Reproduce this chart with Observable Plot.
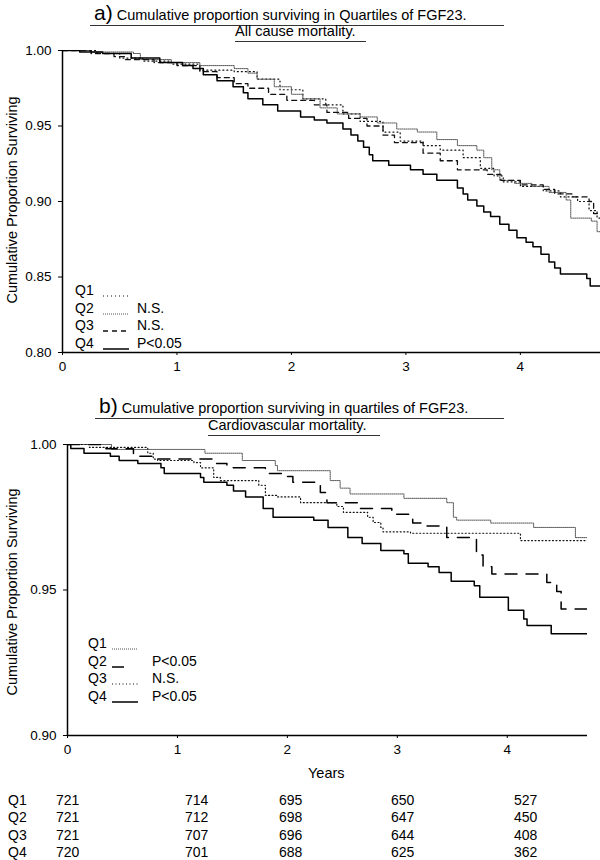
<!DOCTYPE html>
<html><head><meta charset="utf-8">
<script src="https://cdn.jsdelivr.net/npm/d3@7"></script>
<script src="https://cdn.jsdelivr.net/npm/@observablehq/plot@0.6"></script>
<style>
body{margin:0;background:#fff;font-family:"Liberation Sans",Arial,sans-serif;color:#000}
#root{position:relative;width:600px;height:860px;overflow:hidden;background:#fff}
.abs{position:absolute;white-space:nowrap;line-height:1}
.t{font-size:14.5px}
.u{border-bottom:1px solid #333;padding-bottom:2px;display:inline-block}
.big{font-size:21px}
.ylab{position:absolute;font-size:14.5px;white-space:nowrap;transform:translate(-50%,-50%) rotate(-90deg)}
.lg{position:absolute;font-size:14px;white-space:nowrap;line-height:1}
.cell{position:absolute;font-size:14px;line-height:1;white-space:nowrap}
svg.plot{position:absolute}
</style>
</head><body>
<div id="root"></div>
<script>
// ---------- data ----------
const years = [0, 1, 2, 3, 4];
const quartiles = ["Q1", "Q2", "Q3", "Q4"];
const aPvals = ["", "N.S.", "N.S.", "P<0.05"];
const bPvals = ["", "P<0.05", "N.S.", "P<0.05"];
const aYTicks = [0.80, 0.85, 0.90, 0.95, 1.00];
const bYTicks = [0.90, 0.95, 1.00];
const aXEnd = 4.70;
const bXEnd = 4.73;

// number at risk
const riskQ1 = [721, 714, 695, 650, 527];
const riskQ2 = [721, 712, 698, 647, 450];
const riskQ3 = [721, 707, 696, 644, 408];
const riskQ4 = [720, 701, 688, 625, 362];

// a) all cause mortality: [years, cumulative proportion surviving]
const aQ1 = [[0,1],[0.3,0.998],[0.5,0.995],[0.7,0.993],[0.95,0.991],[1.2,0.987],[1.5,0.986],[1.7,0.981],[1.9,0.974],[2.1,0.968],[2.3,0.964],[2.45,0.958],[2.6,0.953],[2.8,0.946],[2.95,0.940],[3.15,0.937],[3.3,0.934],[3.5,0.929],[3.65,0.922],[3.77,0.917],[3.85,0.913],[4.0,0.910],[4.2,0.907],[4.35,0.903],[4.5,0.900],[4.6,0.894],[4.67,0.889],[4.70,0.889]];
const aQ2 = [[0,1],[0.25,0.999],[0.62,0.998],[0.68,0.994],[0.95,0.992],[1.2,0.990],[1.5,0.988],[1.62,0.985],[1.7,0.981],[1.85,0.976],[2.0,0.971],[2.1,0.968],[2.25,0.962],[2.4,0.958],[2.6,0.956],[2.75,0.952],[2.92,0.948],[3.1,0.946],[3.27,0.941],[3.45,0.937],[3.62,0.934],[3.68,0.929],[3.75,0.921],[3.82,0.914],[3.95,0.912],[4.1,0.910],[4.25,0.906],[4.4,0.901],[4.44,0.889],[4.62,0.887],[4.67,0.880],[4.70,0.880]];
const aQ3 = [[0,1],[0.25,0.998],[0.45,0.996],[0.55,0.994],[0.8,0.992],[1.0,0.990],[1.2,0.986],[1.35,0.982],[1.5,0.978],[1.62,0.975],[1.8,0.971],[1.96,0.967],[2.2,0.964],[2.31,0.959],[2.5,0.955],[2.66,0.950],[2.8,0.944],[2.9,0.939],[3.15,0.932],[3.3,0.927],[3.45,0.921],[3.71,0.918],[3.83,0.914],[4.0,0.911],[4.2,0.908],[4.3,0.905],[4.45,0.903],[4.6,0.900],[4.64,0.892],[4.70,0.892]];
const aQ4 = [[0,1],[0.15,0.999],[0.35,0.998],[0.6,0.995],[0.85,0.992],[1.05,0.990],[1.14,0.988],[1.23,0.984],[1.35,0.980],[1.49,0.976],[1.58,0.972],[1.62,0.968],[1.75,0.964],[1.88,0.960],[2.08,0.956],[2.2,0.954],[2.31,0.952],[2.45,0.948],[2.52,0.944],[2.58,0.940],[2.63,0.936],[2.68,0.931],[2.71,0.927],[2.85,0.924],[3.04,0.921],[3.15,0.918],[3.27,0.914],[3.45,0.909],[3.5,0.905],[3.54,0.901],[3.62,0.897],[3.68,0.893],[3.74,0.890],[3.82,0.885],[3.9,0.881],[3.97,0.876],[4.05,0.873],[4.11,0.870],[4.18,0.865],[4.25,0.860],[4.3,0.856],[4.35,0.852],[4.58,0.849],[4.61,0.844],[4.70,0.844]];

// b) cardiovascular mortality
const bQ1 = [[0,1],[0.4,0.9983],[1.25,0.997],[1.59,0.9945],[1.89,0.9928],[1.91,0.991],[2.39,0.9876],[2.48,0.985],[2.57,0.983],[3.06,0.9815],[3.45,0.980],[3.51,0.975],[3.54,0.974],[3.85,0.973],[4.24,0.9715],[4.62,0.968],[4.73,0.968]];
const bQ2 = [[0,1],[0.35,0.9985],[0.6,0.996],[0.8,0.995],[1.35,0.9935],[1.45,0.992],[1.8,0.990],[1.95,0.989],[2.05,0.987],[2.3,0.9835],[2.36,0.980],[2.65,0.978],[2.95,0.976],[3.14,0.973],[3.25,0.972],[3.45,0.968],[3.72,0.962],[3.78,0.958],[3.86,0.9555],[4.36,0.9526],[4.45,0.9495],[4.49,0.9435],[4.73,0.9435]];
const bQ3 = [[0,1],[0.2,0.999],[0.73,0.997],[0.78,0.995],[0.82,0.9945],[1.15,0.9938],[1.21,0.992],[1.33,0.9887],[1.39,0.9876],[1.74,0.986],[1.8,0.9825],[1.91,0.982],[2.12,0.980],[2.45,0.9787],[2.51,0.9767],[2.73,0.975],[2.78,0.9732],[2.85,0.9715],[2.87,0.970],[3.12,0.9695],[4.12,0.967],[4.73,0.967]];
const bQ4 = [[0,1],[0.03,0.9986],[0.15,0.997],[0.39,0.996],[0.47,0.9945],[0.64,0.9935],[0.85,0.992],[0.88,0.990],[1.21,0.9887],[1.24,0.987],[1.45,0.986],[1.51,0.984],[1.62,0.982],[1.78,0.978],[1.87,0.975],[2.24,0.974],[2.37,0.9715],[2.55,0.968],[2.68,0.966],[2.85,0.9636],[3.06,0.9625],[3.1,0.9592],[3.28,0.958],[3.38,0.956],[3.49,0.953],[3.7,0.9515],[3.75,0.9475],[4.01,0.943],[4.15,0.940],[4.18,0.9378],[4.4,0.935],[4.73,0.935]];

// ---------- styles ----------
const aStyles = [
  {stroke:"#111", strokeWidth:1.2, dash:"1,3"},
  {stroke:"#555", strokeWidth:1, dash:"1,1"},
  {stroke:"#111", strokeWidth:1.3, dash:"5,4"},
  {stroke:"#000", strokeWidth:1.5, dash:null}
];
const bStyles = [
  {stroke:"#555", strokeWidth:1, dash:"1,1"},
  {stroke:"#000", strokeWidth:1.5, dash:"12,9"},
  {stroke:"#111", strokeWidth:1.2, dash:"1,2.5"},
  {stroke:"#000", strokeWidth:1.5, dash:null}
];

const root = document.getElementById("root");
function el(cls, html, css){const d=document.createElement("div");d.className=cls;d.innerHTML=html;Object.assign(d.style,css);root.appendChild(d);return d;}

function lineMark(series, st){
  const data = series.map(([t,s]) => ({t, s}));
  return Plot.line(data, {x:"t", y:"s", curve:"step-after", stroke:st.stroke, strokeWidth:st.strokeWidth, strokeDasharray:st.dash ?? undefined, clip:true});
}

function km(opts){
  const p = Plot.plot({
    width: 600, height: opts.height,
    marginTop: opts.mt, marginBottom: opts.mb, marginLeft: opts.ml, marginRight: opts.mr,
    style: {fontFamily:'"Liberation Sans", Arial, sans-serif', fontSize:"13.5px", color:"#000", background:"transparent", overflow:"visible"},
    x: {domain:[0, opts.xEnd], ticks: years, tickFormat: d3.format("d"), label:null, tickSize:3, tickPadding:6},
    y: {domain:[opts.yTicks[0], opts.yTicks[opts.yTicks.length-1]], ticks: opts.yTicks, tickFormat: d3.format(".2f"), label:null, tickSize:4, tickPadding:7},
    marks: [
      ...opts.series.map((s,i) => lineMark(s, opts.styles[i])),
      Plot.ruleX([0], {stroke:"#000", strokeWidth:1.5}),
      Plot.ruleY([opts.yTicks[0]], {stroke:"#000", strokeWidth:1.5})
    ]
  });
  p.classList.add("plot");
  p.style.left = "0px"; p.style.top = opts.top + "px";
  root.appendChild(p);
}

// ---------- titles ----------
el("abs t", '<span class="u" style="padding-right:38px;padding-left:4px"><span class="big">a)</span> Cumulative proportion surviving in Quartiles of FGF23.</span>', {left:"90px", top:"2px"});
el("abs t", '<span class="u" style="padding-right:10px">All cause mortality.</span>', {left:"235px", top:"24px"});

// ---------- chart a ----------
km({top:40, height:340, mt:10, mb:28, ml:62, mr:0, xEnd:aXEnd, yTicks:aYTicks, series:[aQ1,aQ2,aQ3,aQ4], styles:aStyles});
el("ylab", "Cumulative Proportion Surviving", {left:"12px", top:"200px"});

// legend
function legend(x0, y0, dy, pvals, styles, sampleX, pX, sampleW){
  quartiles.forEach((q,i) => {
    const y = y0 + i*dy;
    el("lg", q, {left:x0+"px", top:(y-7)+"px"});
    const st = styles[i];
    const w = sampleW[i];
    const svg = `<svg width="${w}" height="6"><line x1="0" x2="${w}" y1="3" y2="3" stroke="${st.stroke}" stroke-width="${st.strokeWidth}" ${st.dash?`stroke-dasharray="${st.dash}"`:""}/></svg>`;
    el("lg", svg, {left:sampleX+"px", top:(y-3)+"px"});
    if (pvals[i]) el("lg", pvals[i], {left:pX+"px", top:(y-7)+"px"});
  });
}
legend(75, 290, 17.7, aPvals, aStyles, 103, 137, [26,26,26,26]);

// ---------- titles b ----------
el("abs t", '<span class="u" style="padding-right:36px;padding-left:4px"><span class="big">b)</span> Cumulative proportion surviving in quartiles of FGF23.</span>', {left:"95px", top:"395px"});
el("abs t", '<span class="u" style="padding-right:14px">Cardiovascular mortality.</span>', {left:"208px", top:"418px"});

// ---------- chart b ----------
km({top:430, height:330, mt:14, mb:25, ml:67, mr:13, xEnd:bXEnd, yTicks:bYTicks, series:[bQ1,bQ2,bQ3,bQ4], styles:bStyles});
el("ylab", "Cumulative Proportion Surviving", {left:"12px", top:"592px"});
el("abs t", "Years", {left:"308px", top:"766px"});
legend(88, 643, 17.7, bPvals, bStyles, 112, 152, [26,14,26,26]);

// ---------- number at risk ----------
const risk = [riskQ1, riskQ2, riskQ3, riskQ4];
const colX = [56, 185, 279, 391, 514];
risk.forEach((row, r) => {
  const y = 800 + r*17.4;
  el("cell", quartiles[r], {left:"8px", top:(y-7)+"px"});
  row.forEach((v, c) => el("cell", String(v), {left:colX[c]+"px", top:(y-7)+"px"}));
});
</script>
</body></html>
